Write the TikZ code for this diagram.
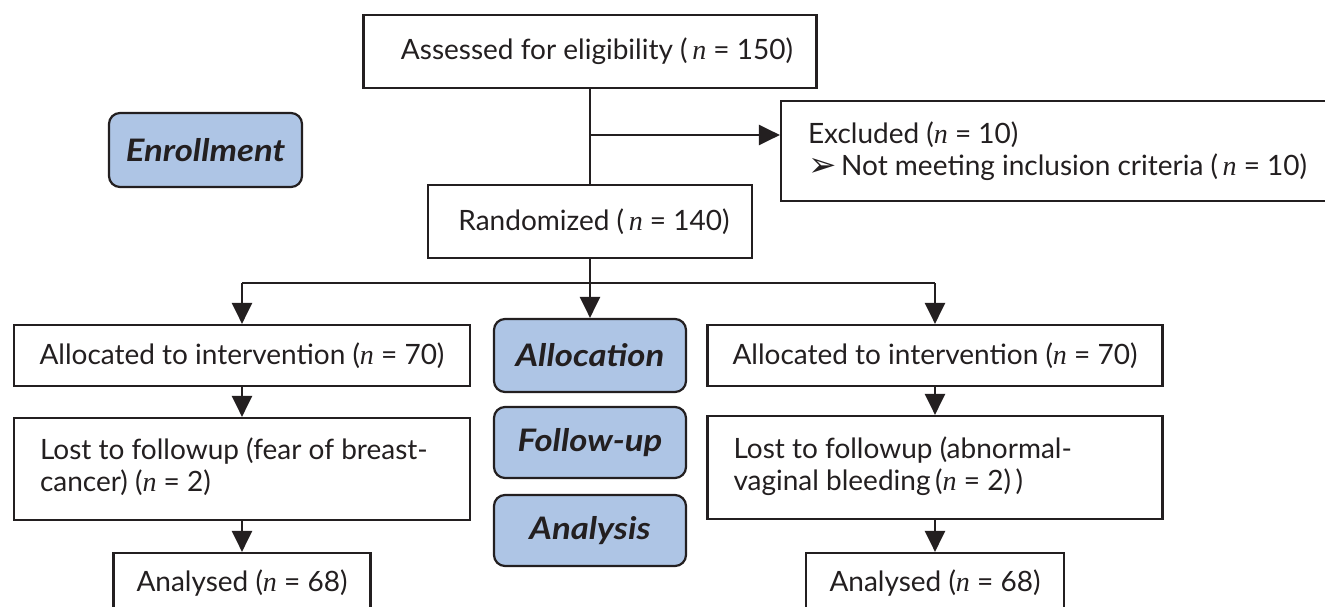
\documentclass[tikz,border=0pt]{standalone}
\usepackage{fontspec}
\setmainfont{Lato}
\newfontfamily\symfont{DejaVu Sans}
\newfontfamily\serifn{Liberation Serif}
\newfontfamily\phasefont{Lato}[FakeStretch=1.12]
\newcommand\nn{{\serifn\itshape n}}
\newcommand\fixline[2]{\makebox[#1][l]{#2}}
\usetikzlibrary{arrows.meta}
\definecolor{ink}{HTML}{231F20}
\definecolor{phase}{HTML}{AEC5E5}
\tikzset{
  box/.style={draw=ink, line width=2.2pt, rectangle, inner sep=0pt, text=ink,
    font=\fontsize{28}{32}\selectfont},
  phasebox/.style={draw=ink, line width=2.2pt, fill=phase, rounded corners=11pt,
    inner sep=0pt, text=ink, font=\phasefont\fontsize{31}{34}\selectfont\bfseries\itshape},
  flow/.style={draw=ink, line width=2.4pt},
  arr/.style={flow, -{Triangle[width=20pt,length=21pt]}},
}
\begin{document}
\begin{tikzpicture}[x=1pt,y=-1pt]
\useasboundingbox (0,0) rectangle (1325,607);
\clip (0,0) rectangle (1325,607);
\fill[white] (0,0) rectangle (1325,607);

% main flow boxes
\node[box, minimum width=453pt, minimum height=73pt] (assess) at (590,51.5)
  {\hspace*{14pt}Assessed for eligibility (\,\nn{} = 150)\raisebox{0pt}[0pt][6pt]{}};
\node[box, minimum width=560pt, minimum height=100pt, align=left] (excl) at (1061,151)
  {\fixline{506pt}{Excluded (\nn{} = 10)}\\
   \fixline{506pt}{{\symfont\fontsize{34}{34}\selectfont\raisebox{-1pt}{➢}}\,Not meeting inclusion criteria (\,\nn{} = 10)}};
\node[box, minimum width=324pt, minimum height=73pt] (rand) at (590,221.5)
  {\hspace*{8pt}Randomized (\,\nn{} = 140)};

\node[box, minimum width=456pt, minimum height=61pt] (allocL) at (242,355.5)
  {Allocated to intervention (\nn{} = 70)};
\node[box, minimum width=455pt, minimum height=61pt] (allocR) at (935,355.5)
  {Allocated to intervention (\nn{} = 70)};

\node[box, minimum width=456pt, minimum height=102pt, align=left] (lostL) at (242,469)
  {\fixline{404pt}{Lost to followup (fear of breast-}\\
   \fixline{404pt}{cancer) (\nn{} = 2)\raisebox{0pt}[0pt][8pt]{}}};
\node[box, minimum width=455pt, minimum height=103pt, align=left] (lostR) at (935,467.5)
  {\fixline{403pt}{Lost to followup (abnormal-}\\
   \fixline{403pt}{vaginal bleeding\,(\nn{} = 2)\,)\raisebox{0pt}[0pt][8pt]{}}};

\node[box, minimum width=257pt, minimum height=60pt] (anaL) at (242,583)
  {Analysed (\nn{} = 68)};
\node[box, minimum width=258pt, minimum height=60pt] (anaR) at (935,583)
  {Analysed (\nn{} = 68)};

% phase labels
\node[phasebox, minimum width=193pt, minimum height=74pt] (enrol) at (205.5,150)
  {Enrollment};
\node[phasebox, minimum width=192pt, minimum height=73pt] (allocP) at (590,355.5)
  {Allocation};
\node[phasebox, minimum width=192pt, minimum height=71pt] (follow) at (590,442.5)
  {Follow-up};
\node[phasebox, minimum width=192pt, minimum height=71pt] (anal) at (590,530.5)
  {Analysis};

% connectors
\coordinate (split) at (assess.south |- 0,135);
\coordinate (exclIn) at (excl.west |- split);
\coordinate (hub) at (rand.south |- 0,283);
\coordinate (hubL) at (allocL.north |- hub);
\coordinate (hubR) at (allocR.north |- hub);
\draw[flow] (assess.south) -- (rand.north);
\draw[arr] (split) -- (exclIn);
\draw[flow] (rand.south) -- (hub);
\draw[flow] (hubL) -- (hubR);
\draw[arr] (hubL) -- (allocL.north);
\draw[arr] (hubR) -- (allocR.north);
\draw[arr] (hub) -- (allocP.north);
\draw[arr] (allocL.south) -- (lostL.north);
\draw[arr] (allocR.south) -- (lostR.north);
\draw[arr] (lostL.south) -- (anaL.north);
\draw[arr] (lostR.south) -- (anaR.north);
\end{tikzpicture}
\end{document}
